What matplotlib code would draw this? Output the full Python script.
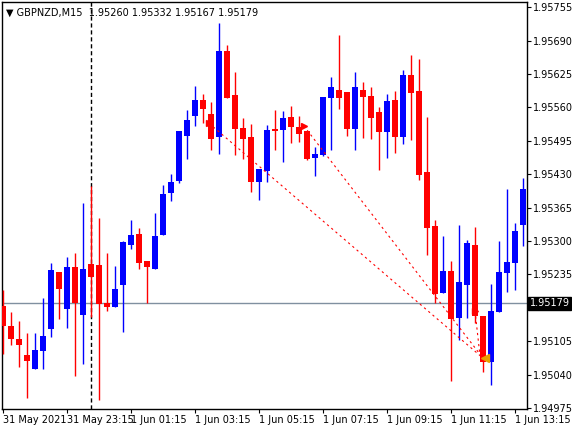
import matplotlib
matplotlib.use('Agg')
import matplotlib.pyplot as plt
from matplotlib.patches import Rectangle

# prices in 1e-5 units
OPENS = [195173, 195135, 195109, 195078, 195051, 195086, 195129, 195240, 195168, 195249,
         195156, 195255, 195253, 195179, 195171, 195214, 195292, 195313, 195261, 195245,
         195312, 195393, 195417, 195504, 195543, 195574, 195547, 195502, 195669, 195584,
         195520, 195502, 195415, 195436, 195518, 195516, 195541, 195522, 195514, 195461,
         195467, 195578, 195594, 195590, 195518, 195594, 195582, 195551, 195512, 195574,
         195502, 195623, 195592, 195434, 195329, 195199, 195242, 195150, 195214, 195292,
         195154, 195065, 195162, 195238, 195257, 195331]
HIGHS = [195205, 195162, 195144, 195121, 195121, 195189, 195257, 195240, 195269, 195277,
         195374, 195407, 195345, 195277, 195251, 195300, 195341, 195325, 195261, 195354,
         195409, 195430, 195514, 195555, 195601, 195586, 195570, 195724, 195681, 195629,
         195539, 195527, 195440, 195525, 195555, 195553, 195562, 195543, 195514, 195483,
         195580, 195619, 195701, 195590, 195629, 195609, 195599, 195560, 195586, 195592,
         195632, 195662, 195654, 195541, 195341, 195310, 195261, 195331, 195302, 195327,
         195154, 195216, 195300, 195401, 195335, 195422]
LOWS = [195080, 195098, 195055, 194995, 195051, 195051, 195113, 195148, 195131, 195037,
        195061, 195152, 194991, 195164, 195171, 195123, 195284, 195245, 195179, 195245,
        195312, 195378, 195413, 195459, 195524, 195529, 195477, 195469, 195578, 195467,
        195459, 195395, 195380, 195415, 195477, 195454, 195490, 195492, 195457, 195426,
        195465, 195477, 195557, 195504, 195477, 195500, 195498, 195438, 195461, 195471,
        195489, 195496, 195419, 195273, 195179, 195199, 195028, 195107, 195150, 195140,
        195045, 195020, 195162, 195201, 195205, 195290]
CLOSES = [195135, 195109, 195098, 195066, 195088, 195115, 195243, 195207, 195249, 195179,
          195245, 195230, 195177, 195171, 195207, 195298, 195312, 195257, 195249, 195310,
          195391, 195415, 195514, 195535, 195574, 195557, 195498, 195669, 195578, 195518,
          195498, 195415, 195440, 195516, 195514, 195539, 195522, 195508, 195459, 195469,
          195580, 195599, 195578, 195518, 195599, 195580, 195539, 195512, 195572, 195502,
          195623, 195588, 195428, 195325, 195197, 195242, 195148, 195220, 195296, 195154,
          195065, 195164, 195240, 195259, 195319, 195401]

Y_TICKS = [195755, 195690, 195625, 195560, 195495, 195430, 195365, 195300, 195235,
           195105, 195040, 194975]
X_TICK_POS = [0, 8, 16, 24, 32, 40, 48, 56, 64]
X_TICK_LABELS = ['31 May 2021', '31 May 23:15', '1 Jun 01:15', '1 Jun 03:15', '1 Jun 05:15',
                 '1 Jun 07:15', '1 Jun 09:15', '1 Jun 11:15', '1 Jun 13:15']
BID = 195179
HEADER = '\u25bc GBPNZD,M15  1.95260 1.95332 1.95167 1.95179'

# trade lines: (x0, p0, x1, p1)
TRADE_LINES = [(25.75, 195529, 60.0, 195072),
               (37.6, 195524, 60.0, 195072),
               (59.0, 195164, 59.6, 195080)]
ARROWS = [(25.8, 195529), (37.6, 195524), (59.0, 195164)]
CLOSE_MARK = (60.3, 195072)

S = 1e-5
W, H = 572, 432
fig = plt.figure(figsize=(W / 100, H / 100), dpi=100)
ax = fig.add_axes([2 / W, 1 - 409 / H, 525 / W, 407 / H])
ax.set_xlim(-0.125, 65.5)
ax.set_ylim(1.94973, 1.95765)

for i, (o, h, l, c) in enumerate(zip(OPENS, HIGHS, LOWS, CLOSES)):
    col = '#0000ff' if c >= o else '#ff0000'
    ax.plot([i, i], [l * S, h * S], color=col, lw=1, solid_capstyle='butt', zorder=3)
    lo, hi = min(o, c) * S, max(o, c) * S
    ax.add_patch(Rectangle((i - 0.32, lo), 0.64, max(hi - lo, 1.5e-5),
                           facecolor=col, edgecolor='none', zorder=4))

ax.axhline(BID * S, color='#8090a0', lw=1, zorder=2)
ax.axvline(11, color='black', lw=1, ls=(0, (3, 2)), zorder=2)

for x0, p0, x1, p1 in TRADE_LINES:
    ax.plot([x0, x1], [p0 * S, p1 * S], color='#ff0000', lw=0.8, ls=(0, (2, 3)), zorder=5)
for x, p in ARROWS:
    ax.plot(x, p * S, marker='>', color='#ff0000', ms=5, zorder=6)
ax.plot(CLOSE_MARK[0], CLOSE_MARK[1] * S, marker='<', color='#e8a000', ms=6, zorder=6)

ax.yaxis.tick_right()
ax.set_yticks([t * S for t in Y_TICKS])
ax.set_yticklabels([f'{t * S:.5f}' for t in Y_TICKS])
ax.set_xticks(X_TICK_POS)
ax.set_xticklabels(X_TICK_LABELS, ha='left')
ax.tick_params(axis='both', labelsize=7, length=3, width=0.8, pad=1, colors='black')
for lab in ax.get_xticklabels():
    lab.set_x(0)
for sp in ax.spines.values():
    sp.set_linewidth(1)

ax.text(1.005, BID * S, f'{BID * S:.5f}', transform=ax.get_yaxis_transform(),
        fontsize=7, color='white', va='center', ha='left',
        bbox=dict(boxstyle='square,pad=0.15', facecolor='black', edgecolor='black'), zorder=10)
ax.text(0.008, 0.985, HEADER, transform=ax.transAxes, fontsize=7, va='top', ha='left')

fig.savefig('out.png', dpi=100)
